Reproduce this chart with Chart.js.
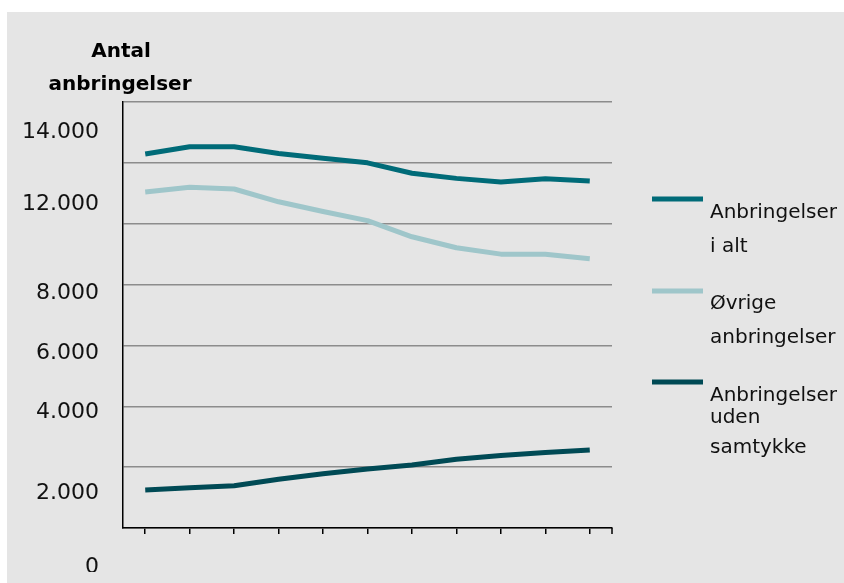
<!DOCTYPE html>
<html>
<head>
<meta charset="utf-8">
<script src="https://cdn.jsdelivr.net/npm/chart.js@4"></script>
<style>
  html, body { margin: 0; padding: 0; background: #fff; }
  canvas { display: block; }
</style>
</head>
<body>
<canvas id="chart" width="844" height="583"></canvas>
<script>
// data (no x labels are shown in the original)
const categories = ['1', '2', '3', '4', '5', '6', '7', '8', '9', '10', '11'];
const iAlt = [12290, 12530, 12530, 12310, 12150, 12000, 11660, 11490, 11370, 11480, 11400];
const oevrige = [11040, 11200, 11140, 10720, 10400, 10100, 9570, 9210, 9000, 9000, 8850];
const udenSamtykke = [1250, 1320, 1390, 1600, 1780, 1940, 2070, 2260, 2380, 2480, 2560];

const yTickValues = [0, 2000, 4000, 6000, 8000, 10000, 12000, 14000];
const yTickLabels = ['0', '2.000', '4.000', '6.000', '8.000', '', '12.000', '14.000'];

const seriesNames = [
  ['Anbringelser', 'i alt'],
  ['Øvrige', 'anbringelser'],
  ['Anbringelser', 'uden', 'samtykke']
];
const colors = ['#006b78', '#9fc6ca', '#004a55'];

// the tick labels in the original sit off their grid lines
const labelShift = [39, 26, 6, 8, 9, 0, 41, 30];

const decor = {
  id: 'decor',
  beforeDraw(chart) {
    const ctx = chart.ctx;
    ctx.save();
    ctx.fillStyle = '#fff';
    ctx.fillRect(0, 0, chart.width, chart.height);
    ctx.fillStyle = '#e5e5e5';
    ctx.fillRect(7, 12, chart.width - 7, chart.height - 12);
    ctx.restore();
  },
  afterDraw(chart) {
    const ctx = chart.ctx;
    const y = chart.scales.y;
    const area = chart.chartArea;
    ctx.save();

    // title
    ctx.fillStyle = '#000';
    ctx.font = 'bold 20px "DejaVu Sans", sans-serif';
    ctx.textAlign = 'center';
    ctx.textBaseline = 'alphabetic';
    ctx.fillText('Antal', 121, 57);
    ctx.fillText('anbringelser', 120, 90);

    // y tick labels
    ctx.save();
    ctx.beginPath();
    ctx.rect(0, 0, 120, 572);
    ctx.clip();
    ctx.fillStyle = '#111';
    ctx.font = '22px "DejaVu Sans", sans-serif';
    ctx.textAlign = 'right';
    ctx.textBaseline = 'middle';
    yTickValues.forEach((v, i) => {
      if (!yTickLabels[i]) return;
      ctx.fillText(yTickLabels[i], 99, y.getPixelForValue(v) + labelShift[i]);
    });
    ctx.restore();

    // end tick on the x axis
    ctx.strokeStyle = '#000';
    ctx.lineWidth = 1.5;
    ctx.beginPath();
    ctx.moveTo(area.right, area.bottom);
    ctx.lineTo(area.right, area.bottom + 6);
    ctx.stroke();

    // legend
    const lineY = [199, 291, 382];
    const textY = [[218, 252], [309, 343], [401, 423, 453]];
    ctx.font = '20px "DejaVu Sans", sans-serif';
    ctx.textAlign = 'left';
    ctx.textBaseline = 'alphabetic';
    seriesNames.forEach((lines, i) => {
      ctx.fillStyle = colors[i];
      ctx.fillRect(652, lineY[i] - 2.5, 51, 5);
      ctx.fillStyle = '#111';
      lines.forEach((t, j) => ctx.fillText(t, 710, textY[i][j]));
    });
    ctx.restore();
  }
};

const datasets = [iAlt, oevrige, udenSamtykke].map((d, i) => ({
  label: seriesNames[i].join(' '),
  data: d,
  borderColor: colors[i],
  backgroundColor: colors[i],
  borderWidth: 5,
  pointRadius: 0,
  tension: 0,
  fill: false,
  borderJoinStyle: 'round'
}));

new Chart(document.getElementById('chart'), {
  type: 'line',
  data: { labels: categories, datasets: datasets },
  options: {
    responsive: false,
    animation: false,
    devicePixelRatio: 1,
    layout: { padding: { left: 123, top: 102, right: 232, bottom: 49 } },
    plugins: { legend: { display: false }, tooltip: { enabled: false } },
    scales: {
      x: {
        offset: true,
        grid: { drawOnChartArea: false, drawTicks: true, tickLength: 6, color: '#000', lineWidth: 1.5, offset: false },
        border: { color: '#000', width: 1.5 },
        ticks: { display: false }
      },
      y: {
        min: 0,
        max: 14000,
        ticks: { display: false, stepSize: 2000 },
        grid: { color: '#8c8c8c', lineWidth: 1.5, drawTicks: false },
        border: { color: '#000', width: 1.5 }
      }
    }
  },
  plugins: [decor]
});
</script>
</body>
</html>
